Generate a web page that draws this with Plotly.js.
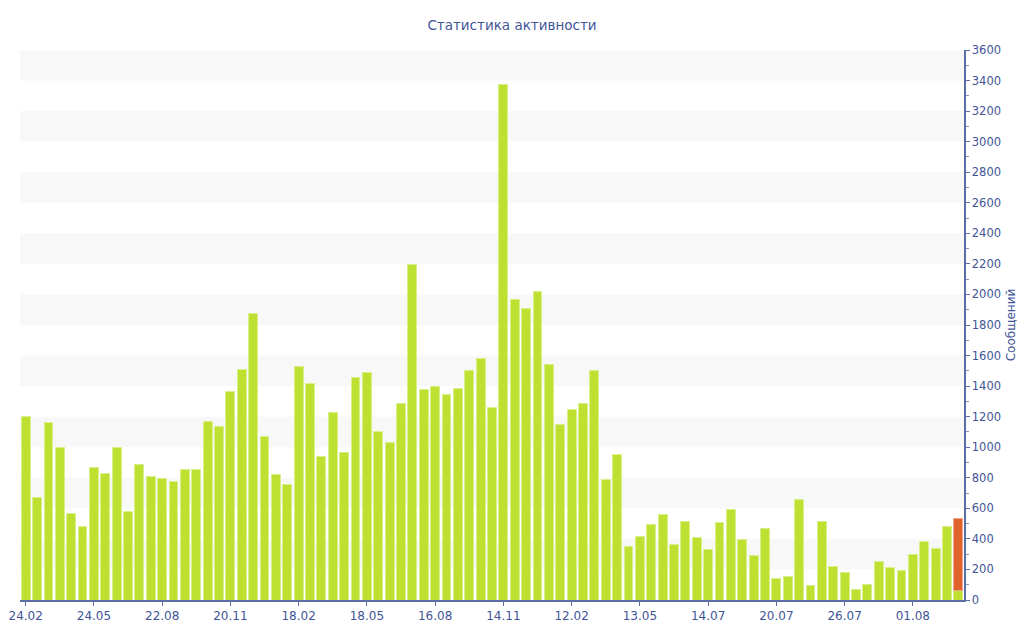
<!DOCTYPE html>
<html>
<head>
<meta charset="utf-8">
<script src="https://cdn.plot.ly/plotly-3.0.1.min.js"></script>
<style>html,body{margin:0;padding:0;background:#fff;}#chart{width:1024px;height:640px;}</style>
</head>
<body>
<div id="chart"></div>
<script>
const categories = [
"24.02.09","11.03.09","26.03.09","10.04.09","25.04.09","10.05.09",
"24.05.09","08.06.09","23.06.09","08.07.09","23.07.09","07.08.09",
"22.08.09","06.09.09","21.09.09","06.10.09","21.10.09","05.11.09",
"20.11.09","05.12.09","20.12.09","04.01.10","19.01.10","03.02.10",
"18.02.10","05.03.10","20.03.10","04.04.10","19.04.10","04.05.10",
"18.05.10","02.06.10","17.06.10","02.07.10","17.07.10","01.08.10",
"16.08.10","31.08.10","15.09.10","30.09.10","15.10.10","30.10.10",
"14.11.10","29.11.10","14.12.10","29.12.10","13.01.11","28.01.11",
"12.02.11","27.02.11","14.03.11","29.03.11","13.04.11","28.04.11",
"13.05.11","23.05.11","02.06.11","12.06.11","23.06.11","04.07.11",
"14.07.11","15.07.11","16.07.11","17.07.11","18.07.11","19.07.11",
"20.07.11","21.07.11","22.07.11","23.07.11","24.07.11","25.07.11",
"26.07.11","27.07.11","28.07.11","29.07.11","30.07.11","31.07.11",
"01.08.11","02.08.11","03.08.11","04.08.11","05.08.11"
];
const messages = [
1204,670,1161,995,567,480,
868,825,999,582,888,811,
798,774,851,857,1171,1137,
1364,1510,1878,1069,823,755,
1529,1418,942,1228,967,1455,
1490,1106,1032,1287,2193,1379,
1398,1344,1383,1501,1584,1263,
3377,1970,1909,2018,1540,1147,
1244,1287,1505,790,954,347,
417,491,561,362,517,412,
332,508,593,393,290,471,
144,153,659,98,515,220,
177,68,102,249,216,192,
299,384,336,478,65
];
const todayCategories = ["05.08.11"];
const todayExtra = [467];
const tickCategories = ["24.02.09","24.05.09","22.08.09","20.11.09","18.02.10","18.05.10","16.08.10","14.11.10","12.02.11","13.05.11","14.07.11","20.07.11","26.07.11","01.08.11"];
const tickLabels = ["24.02","24.05","22.08","20.11","18.02","18.05","16.08","14.11","12.02","13.05","14.07","20.07","26.07","01.08"];
const yTickValues = [0,200,400,600,800,1000,1200,1400,1600,1800,2000,2200,2400,2600,2800,3000,3200,3400,3600];

const textColor = "#3f5597";
const axisColor = "#5b6ea6";

const shapes = [];
for (let i = 1; i < yTickValues.length; i += 2) {
  shapes.push({type:"rect", xref:"paper", yref:"y", x0:0, x1:1,
    y0:yTickValues[i], y1:yTickValues[i+1], fillcolor:"#f8f8f8", line:{width:0}, layer:"below"});
}

const traces = [
  {type:"bar", x:categories, y:messages, name:"Сообщения",
   marker:{color:"#bde031", line:{color:"#d9ef8a", width:1}}, hoverinfo:"y"},
  {type:"bar", x:todayCategories, y:todayExtra, name:"Сегодня",
   marker:{color:"#e0632c", line:{color:"#f0a888", width:1}}, hoverinfo:"y"}
];

const layout = {
  width:1024, height:640,
  margin:{l:20, r:60, t:50, b:40},
  paper_bgcolor:"#ffffff", plot_bgcolor:"rgba(0,0,0,0)",
  font:{family:"DejaVu Sans, Verdana, sans-serif", size:12, color:textColor},
  title:{text:"Статистика активности", x:0.5, xanchor:"center", y:0.96, yanchor:"middle",
    font:{family:"DejaVu Sans, Verdana, sans-serif", size:13.5, color:textColor}},
  barmode:"stack", bargap:0.22, showlegend:false,
  shapes:shapes,
  xaxis:{type:"category", categoryorder:"array", categoryarray:categories,
    tickmode:"array", tickvals:tickCategories, ticktext:tickLabels,
    showline:true, linecolor:axisColor, linewidth:1.5, ticks:"outside", ticklen:4, tickcolor:axisColor,
    showgrid:false, zeroline:false, tickfont:{size:12, color:textColor}},
  yaxis:{side:"right", range:[0,3600], tickmode:"array", tickvals:yTickValues,
    showline:true, linecolor:axisColor, linewidth:1.5, ticks:"outside", ticklen:4, tickcolor:axisColor,
    minor:{dtick:100, ticks:"outside", ticklen:3, tickcolor:"#8a96c0", showgrid:false},
    showgrid:false, zeroline:false, tickfont:{size:11.5, color:textColor},
    title:{text:"Сообщений", standoff:6, font:{size:12, color:textColor}}}
};

Plotly.newPlot("chart", traces, layout, {displayModeBar:false, staticPlot:true});
</script>
</body>
</html>
